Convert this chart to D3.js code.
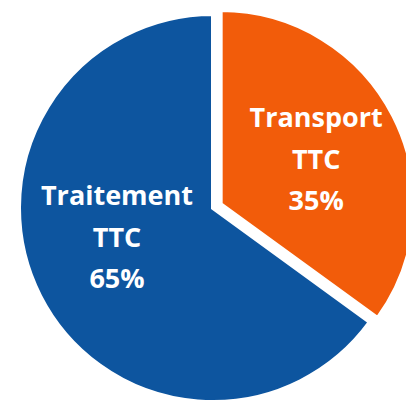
<!DOCTYPE html>
<html><head><meta charset="utf-8">
<script src="https://cdn.jsdelivr.net/npm/d3@7"></script>
<style>html,body{margin:0;padding:0;background:#fff;}svg{display:block;}</style>
</head><body>
<svg id="c" width="406" height="401"></svg>
<script>
const categories = ["Transport TTC", "Traitement TTC"];
const values = [35, 65];
const labelLines = [["Transport", "TTC", "35%"], ["Traitement", "TTC", "65%"]];
const colors = ["#f25c0a", "#0d559f"];
const explode = [8.6, 0];

const svg = d3.select("#c");
const cx = 213, cy = 208, r = 194;
const pie = d3.pie().sort(null).value(d => d)(values);
const arc = d3.arc().innerRadius(0).outerRadius(r);
const g = svg.append("g").attr("transform", `translate(${cx},${cy})`);

const slices = g.selectAll("g.s").data(pie).enter().append("g")
  .attr("transform", (d, i) => {
    const a = (d.startAngle + d.endAngle) / 2;
    return `translate(${Math.sin(a) * explode[i]},${-Math.cos(a) * explode[i]})`;
  });
slices.append("path").attr("d", arc).attr("fill", (d, i) => colors[i])
  .attr("stroke", "#fff").attr("stroke-width", 4).attr("stroke-linejoin", "miter");

const labelPos = [[95.5, -77], [-96, -3]];
const lineGap = 41.5;
slices.each(function (d, i) {
  const t = d3.select(this).append("text")
    .attr("text-anchor", "middle")
    .attr("fill", "#fff")
    .attr("font-family", "'Open Sans', sans-serif")
    .attr("font-weight", "bold")
    .attr("font-size", 27);
  labelLines[i].forEach((l, j) => {
    t.append("tspan").attr("x", labelPos[i][0]).attr("y", labelPos[i][1] + j * lineGap).text(l);
  });
});
</script>
</body></html>
